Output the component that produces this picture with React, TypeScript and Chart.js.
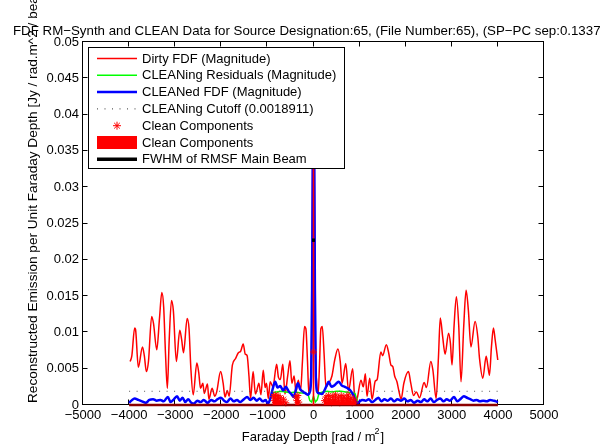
import React, { useEffect, useRef } from "react";
import { Chart, registerables } from "chart.js";

Chart.register(...registerables);

// ---- text ----
const titleText =
  "FDF RM\u2212Synth and CLEAN Data for Source Designation:65, (File Number:65), (SP\u2212PC sep:0.1337";
const xAxisTitle = "Faraday Depth [rad / m";
const xAxisTitleSup = "2";
const yAxisTitle = "Reconstructed Emission per Unit Faraday Depth [Jy / rad.m^2 / beam]";

const legendLabels = [
  "Dirty FDF (Magnitude)",
  "CLEANing Residuals (Magnitude)",
  "CLEANed FDF (Magnitude)",
  "CLEANing Cutoff (0.0018911)",
  "Clean Components",
  "Clean Components",
  "FWHM of RMSF Main Beam",
];

// ---- axes ----
const xTickValues = [-5000, -4000, -3000, -2000, -1000, 0, 1000, 2000, 3000, 4000, 5000];
const xTickLabels = ["\u22125000", "\u22124000", "\u22123000", "\u22122000", "\u22121000", "0", "1000", "2000", "3000", "4000", "5000"];
const yTickValues = [0, 0.005, 0.01, 0.015, 0.02, 0.025, 0.03, 0.035, 0.04, 0.045, 0.05];
const yTickLabels = ["0", "0.005", "0.01", "0.015", "0.02", "0.025", "0.03", "0.035", "0.04", "0.045", "0.05"];

// ---- Dirty FDF (magnitude) ----
const dirtyPhi = [
  -3976, -3940, -3880, -3860, -3800, -3710, -3670, -3625, -3580, -3510, -3470, -3400, -3340, -3290, -3250,
  -3210, -3170, -3130, -3080, -3040, -2975, -2900, -2860, -2820, -2740, -2700, -2660, -2610, -2530, -2490,
  -2450, -2400, -2370, -2300, -2270, -2200, -2140, -2100, -2015, -1960, -1920, -1870, -1830, -1760, -1690,
  -1630, -1580, -1525, -1480, -1440, -1400, -1365, -1310, -1260, -1230, -1185, -1140, -1090, -1050, -1020,
  -980, -940, -880, -800, -760, -720, -665, -620, -560, -510, -470, -420, -380, -330, -280,
  -240, -195, -165, -130, -100, -70, -40, -20, 0, 20, 40, 70, 100, 130, 160,
  190, 230, 270, 330, 400, 460, 530, 580, 620, 700, 760, 850, 900, 950, 1030,
  1080, 1125, 1160, 1220, 1270, 1340, 1380, 1460, 1500, 1580, 1630, 1680, 1720, 1760, 1810,
  1850, 1900, 1960, 2060, 2110, 2170, 2230, 2300, 2400, 2450, 2545, 2590, 2660, 2710, 2750,
  2800, 2855, 2930, 2970, 3005, 3050, 3100, 3150, 3200, 3260, 3310, 3360, 3415, 3505, 3565,
  3600, 3673, 3745, 3780, 3817, 3860, 3903, 3940, 3997,
];
const dirtyAmp = [
  0.006, 0.0068, 0.0106, 0.0104, 0.0052, 0.008, 0.0068, 0.0046, 0.006, 0.0122, 0.0112, 0.0076, 0.012, 0.0155, 0.0135,
  0.007, 0.0023, 0.009, 0.0144, 0.013, 0.006, 0.0103, 0.009, 0.0072, 0.0119, 0.0105, 0.005, 0.0014, 0.0058, 0.0045,
  0.0023, 0.003, 0.0016, 0.0029, 0.0008, 0.0023, 0.0012, 0.0018, 0.0046, 0.003, 0.0011, 0.002, 0.0012, 0.0055, 0.0064,
  0.0072, 0.0074, 0.0084, 0.007, 0.0068, 0.004, 0.0009, 0.0046, 0.0015, 0.002, 0.003, 0.0014, 0.0048, 0.0024, 0.003,
  0.0009, 0.0032, 0.0025, 0.0056, 0.0038, 0.0035, 0.0056, 0.0015, 0.004, 0.0061, 0.003, 0.004, 0.0018, 0.0034, 0.002,
  0.006, 0.0108, 0.0105, 0.006, 0.0015, 0.003, 0.009, 0.03, 0.0455, 0.03, 0.009, 0.003, 0.0015, 0.0055, 0.0105,
  0.0108, 0.007, 0.0025, 0.003, 0.004, 0.0062, 0.0077, 0.006, 0.003, 0.0057, 0.002, 0.005, 0.0005, 0.001, 0.0034,
  0.0025, 0.0043, 0.0012, 0.0037, 0.0008, 0.0033, 0.0035, 0.0073, 0.0068, 0.0083, 0.0072, 0.0055, 0.0053, 0.004, 0.0032,
  0.002, 0.0008, 0.003, 0.0046, 0.003, 0.0013, 0.0018, 0.001, 0.0031, 0.0024, 0.006, 0.0048, 0.0009, 0.0065, 0.012,
  0.0095, 0.007, 0.0099, 0.0085, 0.0055, 0.011, 0.0149, 0.011, 0.0032, 0.011, 0.0158, 0.013, 0.008, 0.0115, 0.0093,
  0.0065, 0.0037, 0.0067, 0.0055, 0.0041, 0.008, 0.0106, 0.009, 0.0062,
];

// ---- CLEANing residuals (magnitude), inside the cleaning window ----
const residualPhi = [
  -960, -900, -800, -700, -600, -500, -400, -300, -200, -120, -80, -40, 0, 40, 80, 120, 200, 300, 400, 500, 600, 700, 800, 900, 960,
];
const residualAmp = [
  0.0003, 0.0017, 0.0018, 0.0019, 0.0018, 0.0017, 0.0018, 0.0017, 0.0016, 0.0015, 0.0006, 0.0004, 0.0012, 0.0004, 0.0007,
  0.0016, 0.0018, 0.0019, 0.0018, 0.0019, 0.0019, 0.0018, 0.0017, 0.0016, 0.0003,
];

// ---- CLEANed FDF (magnitude) ----
const cleanedPhi = [
  -4000, -3950, -3880, -3800, -3720, -3640, -3560, -3480, -3400, -3320, -3250, -3160, -3100, -3040, -2960,
  -2900, -2840, -2780, -2720, -2650, -2590, -2520, -2450, -2380, -2300, -2220, -2150, -2080, -2010, -1940,
  -1880, -1800, -1730, -1660, -1590, -1510, -1440, -1370, -1300, -1230, -1170, -1100, -1040, -990, -940,
  -890, -830, -780, -720, -660, -600, -540, -480, -430, -380, -340, -290, -220, -170, -120,
  -80, -50, -30, -15, 0, 15, 30, 50, 80, 130, 180, 230, 280, 330, 390,
  450, 500, 550, 610, 680, 740, 800, 860, 910, 950, 1000, 1060, 1130, 1200, 1270,
  1340, 1410, 1470, 1540, 1610, 1680, 1750, 1820, 1900, 1970, 2040, 2110, 2180, 2260, 2330,
  2400, 2470, 2540, 2610, 2680, 2750, 2820, 2890, 2960, 3050, 3120, 3200, 3260, 3330, 3400,
  3470, 3540, 3610, 3680, 3760, 3830, 3900, 3960, 4000,
];
const cleanedAmp = [
  0.0003, 0.0006, 0.0009, 0.0007, 0.0005, 0.0003, 0.0007, 0.0008, 0.0006, 0.0007, 0.0005, 0.0011, 0.0004, 0.0007, 0.0012,
  0.0006, 0.001, 0.0004, 0.0008, 0.0003, 0.0002, 0.0006, 0.0004, 0.0007, 0.0003, 0.0007, 0.0005, 0.0008, 0.001, 0.0006,
  0.0004, 0.0009, 0.0005, 0.0007, 0.0004, 0.0008, 0.0011, 0.0007, 0.001, 0.0006, 0.0009, 0.0005, 0.0007, 0.0002, 0.0008,
  0.0021, 0.0032, 0.0024, 0.0026, 0.002, 0.0025, 0.0019, 0.0015, 0.0011, 0.0022, 0.003, 0.0022, 0.0018, 0.0016, 0.0014,
  0.0018, 0.004, 0.016, 0.036, 0.045, 0.036, 0.016, 0.004, 0.0018, 0.0016, 0.0015, 0.0019, 0.0026, 0.0032, 0.0025,
  0.0027, 0.003, 0.0032, 0.0027, 0.0025, 0.0023, 0.002, 0.0014, 0.0006, 0.0002, 0.0005, 0.0007, 0.0006, 0.0008, 0.0004,
  0.0007, 0.001, 0.0005, 0.0008, 0.0006, 0.0009, 0.0005, 0.0008, 0.0006, 0.0009, 0.0005, 0.0007, 0.0003, 0.0006, 0.0004,
  0.0008, 0.0005, 0.0009, 0.0004, 0.0007, 0.0009, 0.0005, 0.0008, 0.0006, 0.0011, 0.0005, 0.0009, 0.0012, 0.001, 0.0008,
  0.0006, 0.0007, 0.0005, 0.0006, 0.0005, 0.0007, 0.0006, 0.0005, 0.0004,
];

// ---- CLEANing cutoff ----
const cutoffLevel = 0.0018911;
const cutoffPhi = [-4000, 4000];

// ---- Clean components ----
const ccPhi = [
  -870, -850, -830, -810, -790, -770, -750, -720, -690, -650, -600, -380, -360, -340, -320,
  0, 0,
  240, 270, 300, 330, 360, 390, 420, 450, 480, 510, 540, 570, 600, 630, 660, 690, 720, 750, 780, 810, 840, 870, 900,
];
const ccAmp = [
  0.0012, 0.0006, 0.0014, 0.0004, 0.0009, 0.0013, 0.0005, 0.001, 0.0004, 0.0008, 0.0003, 0.0011, 0.0006, 0.0013, 0.0004,
  0.0073, 0.042,
  0.0006, 0.0011, 0.0004, 0.0013, 0.0008, 0.0003, 0.0012, 0.0007, 0.0014, 0.0005, 0.001, 0.0003, 0.0013, 0.0006, 0.0011,
  0.0004, 0.0009, 0.0014, 0.0005, 0.001, 0.0003, 0.0008, 0.0004,
];
const ccBaselinePhi = [-4000, 4000];

// ---- RMSF main beam FWHM ----
const fwhmLevel = 0.0227;
const fwhmPhi = [-32, 32];

const FONT = "'Liberation Sans', Arial, Helvetica, sans-serif";
const RED = "#ff0000";
const GREEN = "#00ff00";
const BLUE = "#0000ff";

const pts = (xs: number[], ys: number[]) => xs.map((x, i) => ({ x, y: ys[i] }));
const flat = (xs: number[], y: number) => xs.map((x) => ({ x, y }));

// vertical stems from zero to each component value, separated by gaps
const stems = () => {
  const out: { x: number; y: number | null }[] = [];
  ccPhi.forEach((p, i) => {
    out.push({ x: p, y: 0 }, { x: p, y: ccAmp[i] }, { x: p, y: null });
  });
  return out;
};

// box axes with inward ticks on every side
const boxAxes = {
  id: "boxAxes",
  beforeDatasetsDraw(chart: any) {
    const { ctx, chartArea: a, scales } = chart;
    const L = Math.round(a.left) - 0.5;
    const R = Math.round(a.right) - 0.5;
    const T = Math.round(a.top) - 0.5;
    const B = Math.round(a.bottom) - 0.5;
    ctx.save();
    ctx.strokeStyle = "#000";
    ctx.lineWidth = 1;
    ctx.strokeRect(L, T, R - L, B - T);
    ctx.beginPath();
    const tl = 5;
    xTickValues.forEach((v) => {
      const x = Math.round(scales.x.getPixelForValue(v)) - 0.5;
      ctx.moveTo(x, B);
      ctx.lineTo(x, B - tl);
      ctx.moveTo(x, T);
      ctx.lineTo(x, T + tl);
    });
    yTickValues.forEach((v) => {
      const y = Math.round(scales.y.getPixelForValue(v)) - 0.5;
      ctx.moveTo(L, y);
      ctx.lineTo(L + tl, y);
      ctx.moveTo(R, y);
      ctx.lineTo(R - tl, y);
    });
    ctx.stroke();
    ctx.restore();
  },
};

// legend box drawn over the data
const boxLegend = {
  id: "boxLegend",
  afterDatasetsDraw(chart: any) {
    const ctx = chart.ctx;
    const bx = 88.5;
    const by = 47.5;
    const bw = 256;
    const bh = 121;
    ctx.save();
    ctx.fillStyle = "#fff";
    ctx.fillRect(bx, by, bw, bh);
    ctx.strokeStyle = "#000";
    ctx.lineWidth = 1;
    ctx.strokeRect(bx, by, bw, bh);
    const x0 = 97;
    const x1 = 137;
    const xm = (x0 + x1) / 2;
    const rowY = (i: number) => 58.5 + i * 16.8;
    const line = (i: number, color: string, w: number, dash: number[] = []) => {
      ctx.beginPath();
      ctx.setLineDash(dash);
      ctx.strokeStyle = color;
      ctx.lineWidth = w;
      ctx.moveTo(x0, rowY(i));
      ctx.lineTo(x1, rowY(i));
      ctx.stroke();
      ctx.setLineDash([]);
    };
    line(0, RED, 1.5);
    line(1, GREEN, 1.5);
    line(2, BLUE, 2.5);
    line(3, "#333", 1, [1, 6.5]);
    // asterisk marker
    const r = 4;
    const ay = rowY(4);
    ctx.beginPath();
    ctx.strokeStyle = RED;
    ctx.lineWidth = 1;
    ctx.moveTo(xm - r, ay);
    ctx.lineTo(xm + r, ay);
    ctx.moveTo(xm, ay - r);
    ctx.lineTo(xm, ay + r);
    const d = r * 0.7071;
    ctx.moveTo(xm - d, ay - d);
    ctx.lineTo(xm + d, ay + d);
    ctx.moveTo(xm - d, ay + d);
    ctx.lineTo(xm + d, ay - d);
    ctx.stroke();
    // bar patch
    ctx.fillStyle = RED;
    ctx.fillRect(x0, rowY(5) - 6.5, x1 - x0, 13);
    line(6, "#000", 3.5);
    ctx.fillStyle = "#000";
    ctx.font = `13px ${FONT}`;
    ctx.textBaseline = "middle";
    ctx.textAlign = "left";
    legendLabels.forEach((t, i) => ctx.fillText(t, 142, rowY(i) + 0.5));
    ctx.restore();
  },
};

// figure title and axis labels
const figureText = {
  id: "figureText",
  afterDraw(chart: any) {
    const ctx = chart.ctx;
    ctx.save();
    ctx.fillStyle = "#000";
    ctx.font = `13.3px ${FONT}`;
    ctx.textBaseline = "middle";
    ctx.textAlign = "left";
    ctx.fillText(titleText, 13, 31);

    // x label with superscript
    ctx.font = `13px ${FONT}`;
    const main = ctx.measureText(xAxisTitle).width;
    ctx.font = `9px ${FONT}`;
    const sup = ctx.measureText(xAxisTitleSup).width;
    ctx.font = `13px ${FONT}`;
    const close = ctx.measureText("]").width;
    const total = main + sup + close;
    const cx = 313;
    let x = cx - total / 2;
    ctx.fillText(xAxisTitle, x, 437);
    x += main;
    ctx.font = `9px ${FONT}`;
    ctx.fillText(xAxisTitleSup, x - 1, 432);
    ctx.font = `13px ${FONT}`;
    ctx.fillText("]", x + sup, 437);

    // rotated y label, starting from the bottom
    ctx.font = `13.6px ${FONT}`;
    ctx.translate(33, 403);
    ctx.rotate(-Math.PI / 2);
    ctx.textAlign = "left";
    ctx.fillText(yAxisTitle, 0, 0);
    ctx.restore();
  },
};

export default function App() {
  const ref = useRef<HTMLCanvasElement | null>(null);

  useEffect(() => {
    document.body.style.margin = "0";
    const canvas = ref.current;
    if (!canvas) return;
    const chart = new Chart(canvas, {
      type: "line",
      data: {
        datasets: [
          {
            label: legendLabels[6],
            data: flat(fwhmPhi, fwhmLevel),
            borderColor: "#000",
            borderWidth: 3.5,
            pointRadius: 0,
            order: 0,
          },
          {
            label: legendLabels[5],
            data: stems(),
            borderColor: RED,
            borderWidth: 1.6,
            pointRadius: 0,
            spanGaps: false,
            order: 1,
          },
          {
            label: "baseline",
            data: flat(ccBaselinePhi, 0),
            borderColor: "#8b0000",
            borderWidth: 2.5,
            pointRadius: 0,
            order: 2,
          },
          {
            label: legendLabels[4],
            data: pts(ccPhi, ccAmp),
            showLine: false,
            pointStyle: "star",
            pointRadius: 3.5,
            pointBorderColor: RED,
            pointBackgroundColor: RED,
            pointBorderWidth: 1,
            order: 3,
          },
          {
            label: legendLabels[3],
            data: flat(cutoffPhi, cutoffLevel),
            borderColor: "#555",
            borderWidth: 1,
            borderDash: [1, 6.5],
            pointRadius: 0,
            order: 4,
          },
          {
            label: legendLabels[2],
            data: pts(cleanedPhi, cleanedAmp),
            borderColor: BLUE,
            borderWidth: 2.5,
            pointRadius: 0,
            cubicInterpolationMode: "monotone",
            order: 5,
          },
          {
            label: legendLabels[1],
            data: pts(residualPhi, residualAmp),
            borderColor: GREEN,
            borderWidth: 1.5,
            pointRadius: 0,
            order: 6,
          },
          {
            label: legendLabels[0],
            data: pts(dirtyPhi, dirtyAmp),
            borderColor: RED,
            borderWidth: 1.5,
            pointRadius: 0,
            cubicInterpolationMode: "monotone",
            order: 7,
          },
        ],
      },
      options: {
        responsive: false,
        animation: false,
        devicePixelRatio: 1,
        clip: false as any,
        layout: { padding: { top: 42, right: 56, left: 0, bottom: 0 } },
        elements: { line: { tension: 0 } },
        plugins: {
          legend: { display: false },
          title: { display: false },
          tooltip: { enabled: false },
        },
        scales: {
          x: {
            type: "linear",
            min: -5000,
            max: 5000,
            afterBuildTicks: (s: any) => {
              s.ticks = xTickValues.map((value) => ({ value }));
            },
            afterFit: (s: any) => {
              s.height = 43;
            },
            grid: { display: false, drawTicks: false },
            border: { display: false },
            ticks: {
              color: "#000",
              font: { family: FONT, size: 13 },
              padding: 3,
              maxRotation: 0,
              autoSkip: false,
              callback: (_v: any, i: number) => xTickLabels[i],
            },
          },
          y: {
            type: "linear",
            min: 0,
            max: 0.05,
            afterBuildTicks: (s: any) => {
              s.ticks = yTickValues.map((value) => ({ value }));
            },
            afterFit: (s: any) => {
              s.width = 83;
            },
            grid: { display: false, drawTicks: false },
            border: { display: false },
            ticks: {
              color: "#000",
              font: { family: FONT, size: 13 },
              padding: 4,
              autoSkip: false,
              callback: (_v: any, i: number) => yTickLabels[i],
            },
          },
        },
      },
      plugins: [boxAxes, boxLegend, figureText],
    });
    return () => chart.destroy();
  }, []);

  return (
    <div style={{ position: "absolute", left: 0, top: 0, width: 600, height: 448, background: "#fff" }}>
      <canvas ref={ref} width={600} height={448} style={{ display: "block" }} />
    </div>
  );
}
